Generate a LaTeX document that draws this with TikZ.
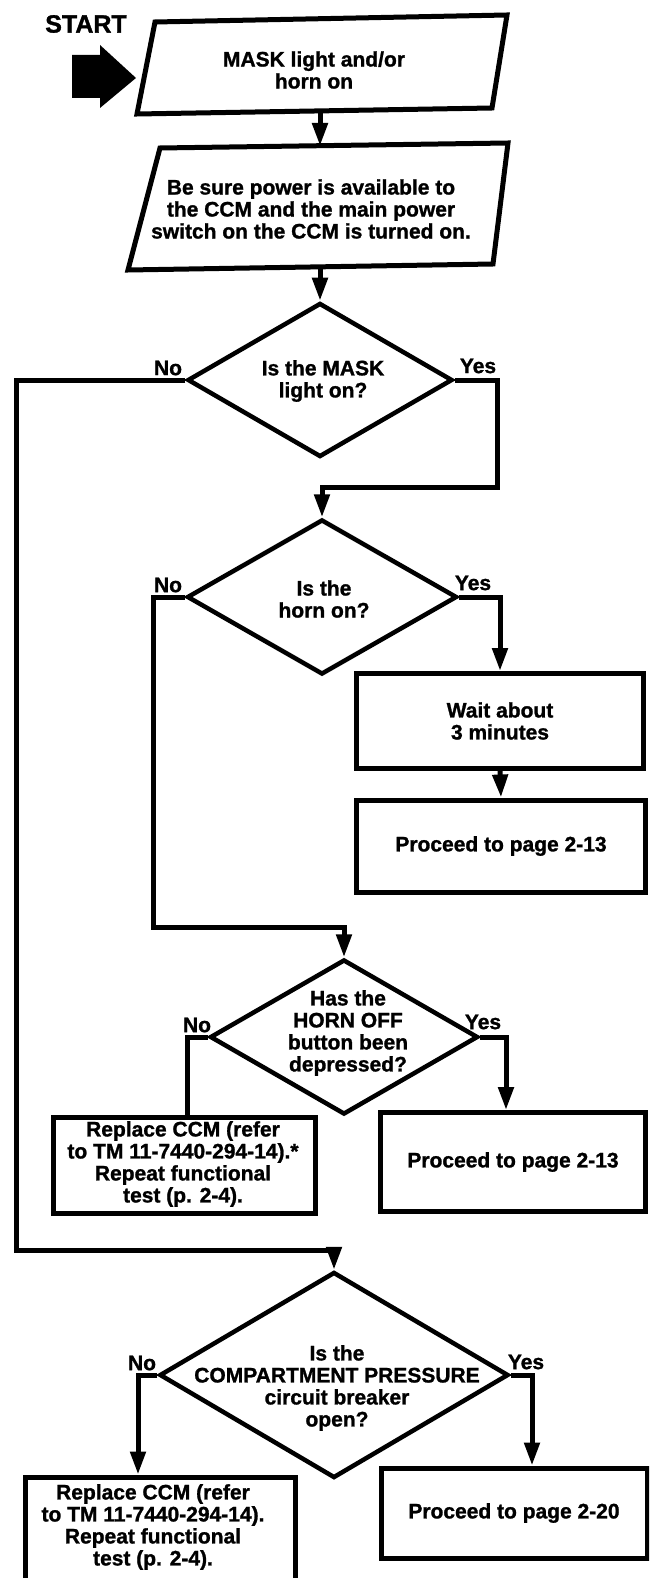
\documentclass[tikz,border=0pt]{standalone}
\usepackage{fontspec}
\setmainfont{Liberation Sans}[BoldFeatures={FakeBold=1.2}]
\usetikzlibrary{arrows.meta,shapes.geometric}
\newcommand\chartfont{\fontsize{21}{22}\selectfont\bfseries}
\begin{document}
\begin{tikzpicture}[x=1pt,y=-1pt,
  flow/.style={line width=5pt},
  arr/.style={flow,-{Triangle[length=23pt,width=15pt]}},
  proc/.style={draw,line width=5pt,rectangle,inner sep=0pt,font=\chartfont,align=center},
  dec/.style={draw,line width=4.5pt,diamond,inner sep=0pt},
  txt/.style={font=\chartfont,align=center,inner sep=0pt},
  lbl/.style={font=\chartfont,inner sep=0pt}]

\clip (0,0) rectangle (649,1578);
\fill[white] (0,0) rectangle (649,1578);

% entry marker
\node[font=\fontsize{25}{25}\selectfont\bfseries,inner sep=0pt] (start) at (86,24) {START};
\fill (72,55) -- (100,55) -- (100,45) -- (136,78) -- (100,108) -- (100,98) -- (72,98) -- cycle;

% input blocks (parallelograms)
\draw[flow] (155,22) -- (507,15) -- (492,108) -- (137,114) -- cycle;
\coordinate (p1s) at (320,111);
\node[txt] (p1) at (314,70) {MASK light and/or\\horn on};

\draw[flow] (160,148) -- (508,143) -- (493,264) -- (128,270) -- cycle;
\coordinate (p2n) at (320,146);
\coordinate (p2s) at (320,267);
\node[txt] (p2) at (311,209) {Be sure power is available to\\the CCM and the main power\\switch on the CCM is turned on.};

% decisions
\node[dec,minimum width=265pt,minimum height=154pt] (d1) at (320,380) {};
\node[txt] (d1t) at (323,381) {Is the MASK\\light on?};
\node[dec,minimum width=270pt,minimum height=155pt] (d2) at (322,597) {};
\node[txt] (d2t) at (324,599) {Is the\\horn on?};
\node[dec,minimum width=268pt,minimum height=155pt] (d3) at (344,1037) {};
\node[txt] (d3t) at (348,1033) {Has the\\HORN OFF\\button been\\depressed?};
\node[dec,minimum width=349pt,minimum height=206pt] (d4) at (334,1375) {};
\node[txt] (d4t) at (337,1388) {Is the\\COMPARTMENT PRESSURE\\circuit breaker\\open?};

% branch labels
\node[lbl] (n1) at (168,368) {No};
\node[lbl] (y1) at (478,366) {Yes};
\node[lbl] (n2) at (168,585) {No};
\node[lbl] (y2) at (473,583) {Yes};
\node[lbl] (n3) at (197,1025) {No};
\node[lbl] (y3) at (483,1022) {Yes};
\node[lbl] (n4) at (142,1363) {No};
\node[lbl] (y4) at (526,1362) {Yes};

% action boxes
\node[proc,minimum width=287pt,minimum height=95pt] (b1) at (500,721) {Wait about\\3 minutes};
\node[proc,minimum width=289pt,minimum height=92pt] (b2) at (501,846) {Proceed to page 2-13};
\node[proc,minimum width=262pt,minimum height=96pt] (b3) at (184,1165) {};
\node[txt] (b3t) at (183,1164) {Replace CCM (refer\\to TM 11-7440-294-14).*\\Repeat functional\\test (p. 2-4).};
\node[proc,minimum width=265pt,minimum height=99pt] (b4) at (513,1162) {Proceed to page 2-13};
\node[proc,minimum width=270pt,minimum height=120pt] (b5) at (160,1537) {};
\node[txt] (b5t) at (153,1527) {Replace CCM (refer\\to TM 11-7440-294-14).\\Repeat functional\\test (p. 2-4).};
\node[proc,minimum width=266pt,minimum height=90pt] (b6) at (514,1513) {Proceed to page 2-20};

% routing points
\coordinate (c1) at (16,1250);
\coordinate (c2) at (497,487);
\coordinate (c3) at (153,927);

% connectors
\draw[arr] (p1s) -- (p2n);
\draw[arr] (p2s) -- (d1.north);
\draw[arr] (d1.east) -| (c2) -| (d2.north);
\draw[arr] (d1.west) -| (c1) -| (d4.north);
\draw[arr] (d2.east) -| (b1.north);
\draw[arr] (b1.south) -- (b2.north);
\draw[arr] (d2.west) -| (c3) -| (d3.north);
\draw[flow] (d3.west) -| ([xshift=3pt]b3.north);
\draw[arr] (d3.east) -| ([xshift=-7pt]b4.north);
\draw[arr] (d4.west) -| ([xshift=-22pt]b5.north);
\draw[arr] (d4.east) -| ([xshift=18pt]b6.north);
\end{tikzpicture}
\end{document}
